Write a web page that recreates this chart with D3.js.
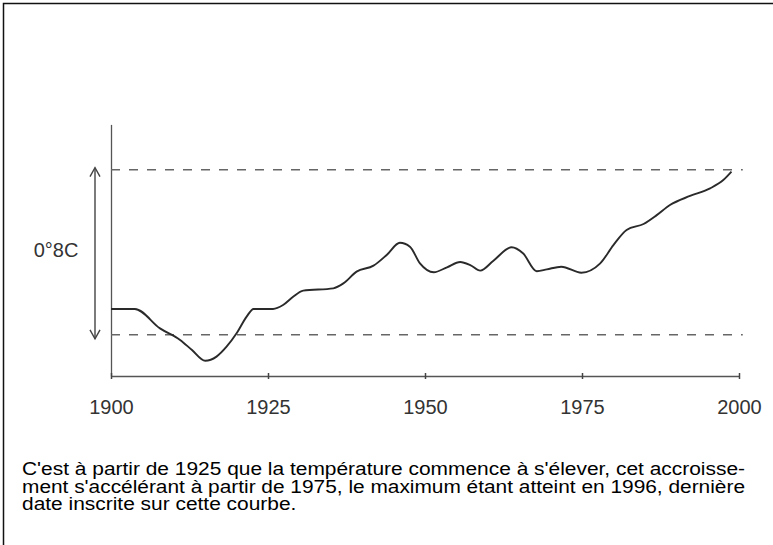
<!DOCTYPE html>
<html lang="fr">
<head>
<meta charset="utf-8">
<script src="https://cdn.jsdelivr.net/npm/d3@7"></script>
<style>
  html, body { margin: 0; padding: 0; background: #fff; }
  svg { display: block; }
</style>
</head>
<body>
<svg id="chart" width="773" height="545"></svg>
<script>
// Années et écart de température (°C, relatif à la ligne basse en tirets)
const years = [1900, 1903.8, 1907.8, 1911.0, 1912.9, 1915.0, 1916.8, 1918.4, 1920.0, 1921.6,
  1922.7, 1925.8, 1927.4, 1929.0, 1930.6, 1935.4, 1937.0, 1939.1, 1941.8, 1943.9,
  1946.0, 1947.6, 1949.2, 1951.4, 1953.5, 1955.6, 1957.2, 1958.8, 1960.9, 1963.8,
  1965.6, 1967.8, 1969.4, 1971.7, 1974.9, 1977.9, 1980.0, 1982.1, 1984.8, 1986.9,
  1989.0, 1992.2, 1995.4, 1997.5, 1998.8];
const anomaly = [0.125, 0.125, 0.031, -0.025, -0.074, -0.126, -0.106, -0.058, 0.007, 0.088,
  0.125, 0.125, 0.144, 0.184, 0.214, 0.225, 0.249, 0.306, 0.335, 0.387,
  0.446, 0.427, 0.346, 0.303, 0.327, 0.353, 0.338, 0.311, 0.359, 0.424,
  0.395, 0.308, 0.317, 0.330, 0.301, 0.346, 0.435, 0.508, 0.537, 0.580,
  0.629, 0.673, 0.710, 0.750, 0.791];

// Graduations de l'axe des années
const tickYears = [1900, 1925, 1950, 1975, 2000];

// Repères horizontaux : l'écart entre les deux lignes vaut 0,8 °C
const refLevels = [0, 0.8];
const spanLabel = "0°8C";

const captionLines = [
  "C'est à partir de 1925 que la température commence à s'élever, cet accroisse-",
  "ment s'accélérant à partir de 1975, le maximum étant atteint en 1996, dernière",
  "date inscrite sur cette courbe."
];

const svg = d3.select("#chart");

// Cadre (bords haut et gauche)
svg.append("path")
  .attr("d", "M3.5,545 L3.5,3.5 L773,3.5")
  .attr("fill", "none")
  .attr("stroke", "#111")
  .attr("stroke-width", 1.5);

const x = d3.scaleLinear().domain([1900, 2000]).range([111, 739]);
const y = d3.scaleLinear().domain([-0.2, 1.02]).range([376, 124.4]);

// Axe vertical sans graduation
svg.append("g")
  .attr("transform", `translate(${x(1900)},0)`)
  .call(d3.axisLeft(y).tickValues([]).tickSizeOuter(0))
  .call(g => g.select(".domain").attr("stroke", "#555").attr("stroke-width", 1.3));

// Axe des années
const xAxis = svg.append("g")
  .attr("transform", `translate(0,${y(-0.2)})`)
  .call(d3.axisBottom(x).tickValues(tickYears).tickFormat(d3.format("d")).tickSizeOuter(0).tickSizeInner(4));
xAxis.select(".domain").attr("stroke", "#555").attr("stroke-width", 1.3);
xAxis.selectAll(".tick line").attr("y1", -3).attr("y2", 3).attr("stroke", "#444").attr("stroke-width", 1.5);
xAxis.selectAll(".tick text")
  .attr("y", 38).attr("dy", 0)
  .attr("fill", "#333")
  .style("font-family", "'Liberation Sans', Arial, sans-serif")
  .style("font-size", "20px");

// Lignes de référence en tirets
svg.selectAll("line.ref")
  .data(refLevels)
  .join("line")
  .attr("class", "ref")
  .attr("x1", x(1900)).attr("x2", x(2000.6))
  .attr("y1", d => y(d)).attr("y2", d => y(d))
  .attr("stroke", "#666")
  .attr("stroke-width", 1.5)
  .attr("stroke-dasharray", "9,9");

// Double flèche indiquant l'écart de 0,8 °C
const ax = 95;
const aTop = y(0.81), aBot = y(-0.02);
const arrow = svg.append("g").attr("stroke", "#444").attr("stroke-width", 1.4).attr("fill", "none");
arrow.append("line").attr("x1", ax).attr("x2", ax).attr("y1", aTop).attr("y2", aBot);
arrow.append("path").attr("d", `M${ax - 5},${aTop + 9} L${ax},${aTop} L${ax + 5},${aTop + 9}`);
arrow.append("path").attr("d", `M${ax - 5},${aBot - 9} L${ax},${aBot} L${ax + 5},${aBot - 9}`);

svg.append("text")
  .attr("x", 56).attr("y", y(0.4) + 5)
  .attr("text-anchor", "middle")
  .attr("fill", "#333")
  .style("font-family", "'Liberation Sans', Arial, sans-serif")
  .style("font-size", "20px")
  .text(spanLabel);

// Courbe de température
const pts = years.map((yr, i) => [yr, anomaly[i]]);
const line = d3.line()
  .x(d => x(d[0]))
  .y(d => y(d[1]))
  .curve(d3.curveMonotoneX);
svg.append("path")
  .datum(pts)
  .attr("d", line)
  .attr("fill", "none")
  .attr("stroke", "#2a2a2a")
  .attr("stroke-width", 1.9)
  .attr("stroke-linejoin", "round");

// Légende sous le graphique : caractères élargis, lignes pleines justifiées
const capLeft = 22, capWidth = 723;
const cap = svg.append("g")
  .style("font-family", "'Liberation Sans', Arial, sans-serif")
  .style("font-size", "17.5px")
  .attr("fill", "#000");
const capTexts = cap.selectAll("text")
  .data(captionLines)
  .join("text")
  .attr("x", capLeft)
  .attr("y", (d, i) => 475 + i * 17.5)
  .text(d => d);
const firstNatural = capTexts.nodes()[0].getComputedTextLength();
const stretch = capWidth / firstNatural;
capTexts.each(function(d, i) {
  const natural = this.getComputedTextLength();
  const target = i < captionLines.length - 1 ? capWidth : natural * stretch;
  d3.select(this).attr("textLength", target).attr("lengthAdjust", "spacingAndGlyphs");
});
</script>
</body>
</html>
